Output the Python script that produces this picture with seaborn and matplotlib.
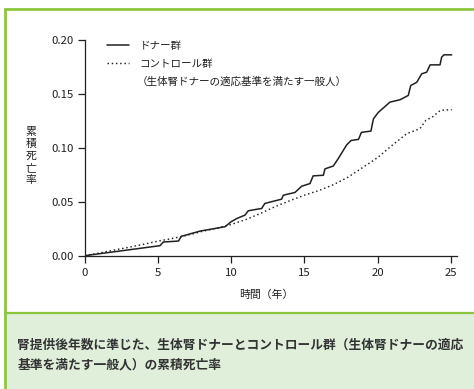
import matplotlib
matplotlib.use("Agg")
import matplotlib.pyplot as plt
import seaborn as sns
import pandas as pd
from matplotlib.lines import Line2D
from matplotlib.patches import Rectangle

# Cumulative mortality, living kidney donors (step-like curve)
donor_years = [0, 5.14, 5.37, 6.4, 6.6, 7.9, 9.58, 10.0, 10.4, 10.95, 11.17, 12.09,
               12.3, 13.45, 13.57, 14.36, 14.82, 15.39, 15.6, 16.3, 16.41, 16.98,
               17.32, 17.9, 18.2, 18.7, 18.9, 19.55, 19.72, 20.05, 20.85, 21.54,
               22.1, 22.27, 22.68, 23.02, 23.36, 23.59, 24.27, 24.38, 24.54, 25.07]
donor_rate = [0, 0.0093, 0.0127, 0.0136, 0.018, 0.0229, 0.0269, 0.0315, 0.0346,
              0.0377, 0.0417, 0.0439, 0.0485, 0.0525, 0.0562, 0.0587, 0.0645, 0.067,
              0.0741, 0.0747, 0.0806, 0.0833, 0.0902, 0.103, 0.107, 0.108, 0.1145,
              0.1157, 0.127, 0.133, 0.1426, 0.1448, 0.1488, 0.158, 0.161, 0.1689,
              0.1704, 0.1772, 0.1772, 0.1843, 0.1865, 0.1865]

# Cumulative mortality, matched control group
control_years = [0, 1, 2, 3, 4, 5, 6, 7, 8, 9, 10, 11, 12, 13, 14, 15, 16, 17, 18,
                 19, 20, 21, 22, 22.9, 23.3, 23.8, 24.3, 25.07]
control_rate = [0, 0.0025, 0.0052, 0.0078, 0.0105, 0.0135, 0.016, 0.019, 0.0225,
                0.0255, 0.029, 0.0335, 0.0392, 0.0455, 0.051, 0.0562, 0.0605, 0.066,
                0.073, 0.082, 0.091, 0.1025, 0.1133, 0.118, 0.1256, 0.1293, 0.135,
                0.1356]

x_ticks = [0, 5, 10, 15, 20, 25]
y_ticks = [0.00, 0.05, 0.10, 0.15, 0.20]
y_tick_labels = ["0.00", "0.05", "0.10", "0.15", "0.20"]

label_donor = "ドナー群"
label_control = "コントロール群"
label_control_note = "（生体腎ドナーの適応基準を満たす一般人）"
x_title = "時間（年）"
y_title = "累積死亡率"
caption_lines = ["腎提供後年数に準じた、生体腎ドナーとコントロール群（生体腎ドナーの適応",
                 "基準を満たす一般人）の累積死亡率"]

sns.set_theme(style="ticks")
plt.rcParams["font.family"] = ["Noto Sans CJK JP", "DejaVu Sans"]

INK = "#231f20"
GREEN = "#8cc63f"
PALE = "#dfefda"
W, H = 474, 389

fig = plt.figure(figsize=(W / 100, H / 100), dpi=100)
fig.patch.set_facecolor("white")

def fx(px):
    return px / W

def fy(py):
    return 1 - py / H

# frame: caption panel and green rules
fig.add_artist(Rectangle((fx(5), 0), 1 - fx(5), fy(313), transform=fig.transFigure,
                         facecolor=PALE, edgecolor="none", zorder=0))
fig.add_artist(Line2D([fx(4), 1], [fy(8.7), fy(8.7)], transform=fig.transFigure,
                      color=GREEN, lw=2.0, solid_capstyle="butt"))
fig.add_artist(Line2D([fx(5.2), fx(5.2)], [0, fy(7.5)], transform=fig.transFigure,
                      color=GREEN, lw=2.0, solid_capstyle="butt"))
fig.add_artist(Line2D([fx(4), 1], [fy(313), fy(313)], transform=fig.transFigure,
                      color=GREEN, lw=1.6, solid_capstyle="butt"))

ax = fig.add_axes([fx(84.7), fy(255.7), fx(457.3) - fx(84.7), fy(40.3) - fy(255.7)])
ax.set_facecolor("none")

donor_df = pd.DataFrame({"year": donor_years, "rate": donor_rate})
control_df = pd.DataFrame({"year": control_years, "rate": control_rate})

sns.lineplot(data=donor_df, x="year", y="rate", ax=ax, color=INK, lw=1.1,
             sort=False, estimator=None, label=label_donor)
sns.lineplot(data=control_df, x="year", y="rate", ax=ax, color=INK, lw=1.05,
             linestyle=(0, (1, 1.9)), sort=False, estimator=None, label=label_control)

ax.set_xlim(0, 25.45)
ax.set_ylim(0, 0.20)
ax.set_xticks(x_ticks)
ax.set_yticks(y_ticks)
ax.set_yticklabels(y_tick_labels)
ax.tick_params(axis="both", direction="out", length=5.2, width=0.9, color=INK,
               labelcolor=INK, labelsize=8.2, pad=2.5)
ax.tick_params(axis="x", pad=3.5)
for side in ("top", "right"):
    ax.spines[side].set_visible(False)
for side in ("left", "bottom"):
    ax.spines[side].set_color(INK)
    ax.spines[side].set_linewidth(0.9)

ax.set_xlabel("")
ax.set_ylabel("")
fig.text(fx(266), fy(295), x_title, ha="center", va="center", fontsize=7.8, color=INK)
fig.text(fx(31), fy(156), "\n".join(y_title), ha="center", va="center",
         fontsize=7.8, color=INK, linespacing=1.22)

leg = ax.legend(loc="upper left", bbox_to_anchor=(fx(107), fy(41)),
                bbox_transform=fig.transFigure, frameon=False, fontsize=7.6,
                handlelength=2.1, handletextpad=1.0, labelspacing=0.75,
                borderpad=0, borderaxespad=0)
for t in leg.get_texts():
    t.set_color(INK)
fig.text(fx(137), fy(81.5), label_control_note, ha="left", va="center",
         fontsize=7.6, color=INK)

for i, line in enumerate(caption_lines):
    fig.text(fx(17.5), fy(345 + i * 19.5), line, ha="left", va="center",
             fontsize=9.2, fontweight="bold", color="#333333")

fig.savefig("out.png", dpi=100, facecolor=fig.get_facecolor())
